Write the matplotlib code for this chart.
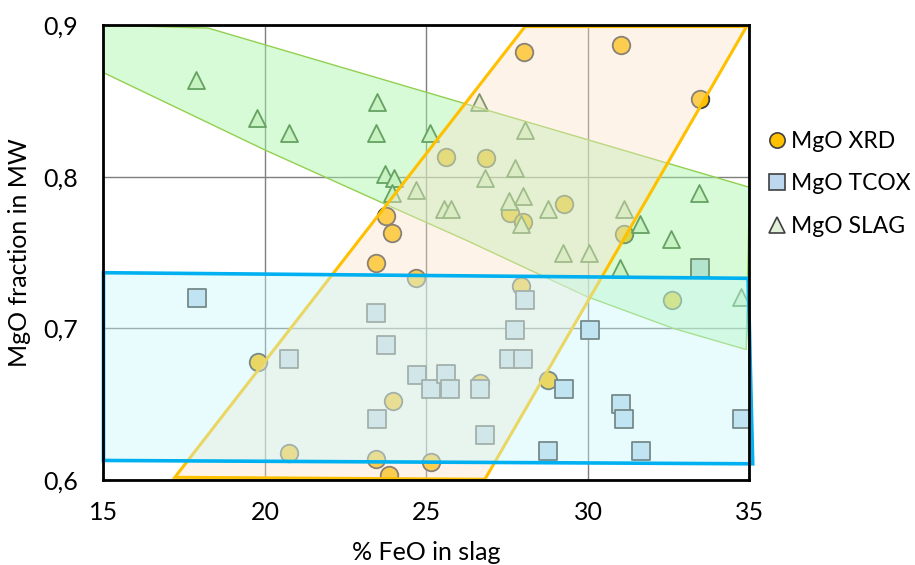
import matplotlib
matplotlib.use("Agg")
import matplotlib.pyplot as plt
from matplotlib.patches import Polygon
from matplotlib.lines import Line2D

plt.rcParams['font.family'] = ['Lato', 'DejaVu Sans']

# MgO XRD (circles)
xrd_x = [28.02, 31.02, 33.47, 25.6, 26.83, 23.74, 23.92, 27.58, 28.0, 29.25, 31.1, 23.43,
         24.67, 27.92, 32.59, 19.79, 23.97, 28.77, 26.66, 20.75, 23.43, 23.84, 25.13]
xrd_y = [0.882, 0.887, 0.851, 0.813, 0.812, 0.774, 0.763, 0.776, 0.770, 0.782, 0.762, 0.743,
         0.733, 0.728, 0.719, 0.678, 0.652, 0.666, 0.664, 0.618, 0.614, 0.603, 0.612]

# MgO TCOX (squares)
tcox_x = [17.9, 23.43, 23.75, 20.75, 24.7, 23.46, 25.13, 25.59, 25.73, 26.66, 26.82, 27.74,
          27.55, 28.0, 28.06, 29.26, 28.77, 30.05, 31.03, 31.1, 31.64, 33.47, 34.78]
tcox_y = [0.720, 0.710, 0.689, 0.680, 0.669, 0.640, 0.660, 0.670, 0.660, 0.660, 0.630, 0.699,
          0.680, 0.680, 0.719, 0.660, 0.619, 0.699, 0.650, 0.640, 0.619, 0.740, 0.640]

# MgO SLAG (triangles)
slag_x = [17.86, 19.76, 20.74, 23.46, 23.43, 23.72, 23.98, 23.92, 24.67, 26.62, 25.1, 28.05,
          27.74, 26.81, 25.55, 25.75, 27.55, 28.0, 28.77, 27.92, 31.1, 31.61, 32.57, 33.43,
          29.23, 30.04, 31.0, 34.73]
slag_y = [0.864, 0.839, 0.829, 0.849, 0.829, 0.802, 0.799, 0.789, 0.791, 0.849, 0.829, 0.831,
          0.806, 0.799, 0.779, 0.779, 0.784, 0.787, 0.779, 0.769, 0.779, 0.769, 0.759, 0.789,
          0.750, 0.750, 0.740, 0.721]

# envelopes drawn over the points
slag_env = [(15, 0.9), (18.24, 0.898), (35, 0.793), (34.9, 0.686), (32.64, 0.700),
            (29.96, 0.721), (26.24, 0.758), (23.66, 0.7825), (20.0, 0.8176), (15, 0.8686)]
xrd_env = [(17.21, 0.6018), (28.05, 0.899), (34.91, 0.899), (26.81, 0.6005)]
tcox_env = [(15, 0.7367), (34.96, 0.733), (35.1, 0.6107), (15, 0.6129)]

fig = plt.figure(figsize=(9.15, 5.65), dpi=100)
ax = fig.add_axes([0.1131, 0.1504, 0.706, 0.8053])

ax.scatter(xrd_x, xrd_y, s=160, marker='o', facecolor='#ffc000', edgecolor='#404040',
           linewidth=1.3, zorder=2)
ax.scatter(tcox_x, tcox_y, s=150, marker='s', facecolor='#bdd7ee', edgecolor='#404040',
           linewidth=1.3, zorder=2)
ax.scatter(slag_x, slag_y, s=150, marker='^', facecolor='#e2f0d9', edgecolor='#2f5f2a',
           linewidth=1.3, zorder=2)

ax.add_patch(Polygon(slag_env, closed=True, facecolor=(0.66, 0.96, 0.66, 0.45),
                     edgecolor='#92d050', linewidth=1.0, zorder=3, clip_on=False))
ax.add_patch(Polygon(xrd_env, closed=True, facecolor=(0.98, 0.89, 0.79, 0.4),
                     edgecolor='#ffc000', linewidth=2.2, zorder=4, clip_on=False))
ax.add_patch(Polygon(tcox_env, closed=True, facecolor=(0.79, 0.976, 0.98, 0.4),
                     edgecolor='#00b0f0', linewidth=2.6, zorder=5, clip_on=False))

ax.set_xlim(15, 35)
ax.set_ylim(0.6, 0.9)
ax.set_xticks([15, 20, 25, 30, 35])
ax.set_yticks([0.6, 0.7, 0.8, 0.9])
ax.set_yticklabels(['0,6', '0,7', '0,8', '0,9'])
ax.tick_params(axis='both', length=0, labelsize=18)
ax.tick_params(axis='x', pad=15)
ax.tick_params(axis='y', pad=18)
ax.grid(True, color='#7f7f7f', linewidth=1.0, zorder=1)
ax.set_axisbelow(True)
for sp in ax.spines.values():
    sp.set_linewidth(2.0)
    sp.set_color('black')
    sp.set_zorder(6)

ax.set_xlabel('% FeO in slag', fontsize=18, labelpad=12)
ax.set_ylabel('MgO fraction in MW', fontsize=18, labelpad=9)

handles = [
    Line2D([], [], marker='o', linestyle='none', markersize=11, markerfacecolor='#ffc000',
           markeredgecolor='#404040', markeredgewidth=1.2),
    Line2D([], [], marker='s', linestyle='none', markersize=11, markerfacecolor='#bdd7ee',
           markeredgecolor='#404040', markeredgewidth=1.2),
    Line2D([], [], marker='^', linestyle='none', markersize=11, markerfacecolor='#e2f0d9',
           markeredgecolor='#404040', markeredgewidth=1.2),
]
fig.legend(handles, ['MgO XRD', 'MgO TCOX', 'MgO SLAG'], loc='upper left',
           bbox_to_anchor=(0.824, 0.789), frameon=False, fontsize=16.5,
           handletextpad=0.1, handlelength=1.0, labelspacing=0.95, borderpad=0)

fig.savefig('out.png', dpi=100)
